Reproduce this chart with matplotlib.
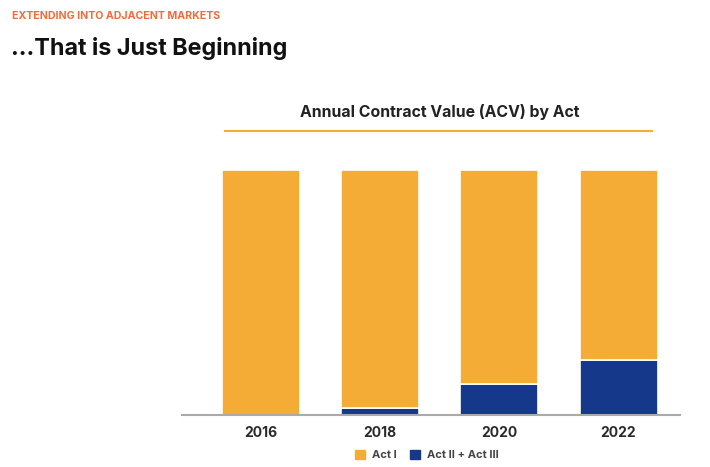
import numpy as np
import matplotlib.pyplot as plt
from matplotlib.patches import Patch

plt.rcParams['font.family'] = ['Inter', 'DejaVu Sans']

years = ["2016", "2018", "2020", "2022"]
act_2_3 = [0, 2.7, 12.3, 22.1]
act_1 = [100 - v for v in act_2_3]

orange = "#F5AC36"
navy = "#15388A"

fig = plt.figure(figsize=(7.1, 4.67), dpi=100)
ax = fig.add_axes([0.256, 0.1124, 0.702, 0.5236])

x = np.arange(len(years))
ax.bar(x, act_2_3, width=0.655, color=navy, edgecolor="white", linewidth=1.2)
ax.bar(x, act_1, width=0.655, bottom=act_2_3, color=orange, edgecolor="white", linewidth=1.2)

ax.set_xlim(-0.664, 3.517)
ax.set_ylim(0, 100)
ax.set_yticks([])
ax.set_xticks(x)
ax.set_xticklabels(years, fontsize=10, fontweight="bold", color="#2A2A2A")
ax.tick_params(axis="x", length=0, pad=8)
for s in ["top", "left", "right"]:
    ax.spines[s].set_visible(False)
ax.spines["bottom"].set_color("#AAAAAA")
ax.spines["bottom"].set_linewidth(1.5)

fig.text(12 / 710, 1 - 16 / 467, "EXTENDING INTO ADJACENT MARKETS", fontsize=7.6,
         fontweight="bold", color="#F26B38", va="center", ha="left")
fig.text(11 / 710, 1 - 48 / 467, "...That is Just Beginning", fontsize=16.8,
         fontweight="bold", color="#111111", va="center", ha="left")
fig.text(440 / 710, 1 - 112 / 467, "Annual Contract Value (ACV) by Act", fontsize=11.4,
         fontweight="bold", color="#222222", va="center", ha="center")
fig.add_artist(plt.Line2D([225 / 710, 652 / 710], [1 - 131 / 467, 1 - 131 / 467],
                          color=orange, linewidth=1.5))

handles = [Patch(color=orange, label="Act I"), Patch(color=navy, label="Act II + Act III")]
leg = fig.legend(handles=handles, loc="center", bbox_to_anchor=(427 / 710, 1 - 455 / 467),
                 ncol=2, frameon=False, fontsize=8, handlelength=0.9, handleheight=0.9,
                 handletextpad=0.6, columnspacing=1.2)
for t in leg.get_texts():
    t.set_fontweight("bold")
    t.set_color("#444444")

fig.savefig("out.png", dpi=100)
